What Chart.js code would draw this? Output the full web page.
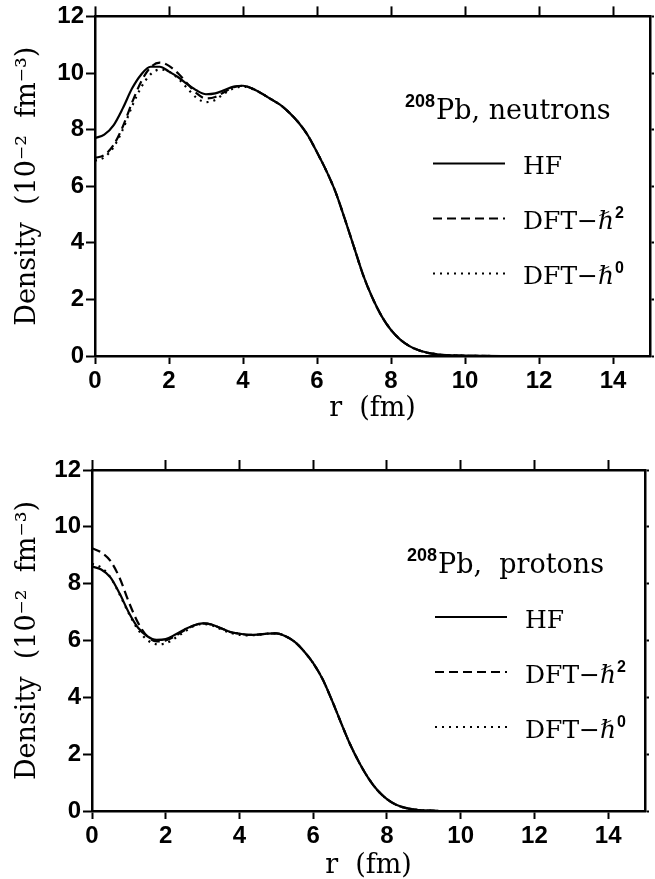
<!DOCTYPE html>
<html>
<head>
<meta charset="utf-8">
<title>208Pb densities</title>
<script src="https://cdn.jsdelivr.net/npm/chart.js@4.4.1/dist/chart.umd.min.js"></script>
<style>
  html, body { margin: 0; padding: 0; background: #fff; }
  .panel { position: absolute; left: 0; width: 655px; }
  #top-panel { top: 0; height: 430px; }
  #bottom-panel { top: 430px; height: 449px; }
</style>
</head>
<body>
<div class="panel" id="top-panel"><canvas id="neutrons" width="655" height="430"></canvas></div>
<div class="panel" id="bottom-panel"><canvas id="protons" width="655" height="449"></canvas></div>
<script>
// --- data (density in 10^-2 fm^-3) ---
const radius = [0, 0.25, 0.5, 0.75, 1, 1.25, 1.5, 1.75, 2, 2.25, 2.5, 2.75, 3, 3.25, 3.5, 3.75,
  4, 4.25, 4.5, 4.75, 5, 5.25, 5.5, 5.75, 6, 6.25, 6.5, 6.75, 7, 7.25, 7.5, 7.75,
  8, 8.25, 8.5, 8.75, 9, 9.25, 9.5, 9.75, 10, 11, 12, 13, 14, 15];

const neutronHF = [7.70, 7.82, 8.15, 8.75, 9.45, 9.95, 10.22, 10.22, 10.05, 9.85, 9.60, 9.38, 9.25, 9.28, 9.40, 9.52,
  9.55, 9.45, 9.28, 9.08, 8.88, 8.60, 8.25, 7.80, 7.20, 6.55, 5.80, 4.85, 3.85, 2.85, 2.05, 1.40,
  0.92, 0.58, 0.35, 0.20, 0.11, 0.06, 0.03, 0.02, 0.01, 0, 0, 0, 0, 0];
const neutronDFT2 = [7.00, 7.10, 7.45, 8.10, 8.95, 9.70, 10.20, 10.37, 10.25, 9.98, 9.62, 9.28, 9.10, 9.15, 9.33, 9.50,
  9.55, 9.45, 9.28, 9.08, 8.88, 8.60, 8.25, 7.80, 7.20, 6.55, 5.80, 4.85, 3.85, 2.85, 2.05, 1.40,
  0.92, 0.58, 0.35, 0.20, 0.11, 0.06, 0.03, 0.02, 0.01, 0, 0, 0, 0, 0];
const neutronDFT0 = [6.90, 7.02, 7.38, 8.00, 8.82, 9.50, 9.95, 10.12, 10.05, 9.80, 9.45, 9.12, 8.97, 9.05, 9.28, 9.46,
  9.52, 9.44, 9.28, 9.08, 8.88, 8.60, 8.25, 7.80, 7.20, 6.55, 5.80, 4.85, 3.85, 2.85, 2.05, 1.40,
  0.92, 0.58, 0.35, 0.20, 0.11, 0.06, 0.03, 0.02, 0.01, 0, 0, 0, 0, 0];

const protonHF = [8.60, 8.50, 8.22, 7.65, 6.98, 6.45, 6.15, 6.02, 6.05, 6.20, 6.38, 6.53, 6.60, 6.56, 6.43, 6.30,
  6.24, 6.20, 6.21, 6.24, 6.25, 6.15, 5.95, 5.62, 5.20, 4.65, 3.92, 3.12, 2.35, 1.70, 1.15, 0.72,
  0.42, 0.22, 0.11, 0.05, 0.02, 0.01, 0, 0, 0, 0, 0, 0, 0, 0];
const protonDFT2 = [9.25, 9.10, 8.80, 8.20, 7.35, 6.62, 6.15, 5.97, 6.00, 6.15, 6.35, 6.52, 6.60, 6.56, 6.43, 6.30,
  6.24, 6.20, 6.21, 6.24, 6.25, 6.15, 5.95, 5.62, 5.20, 4.65, 3.92, 3.12, 2.35, 1.70, 1.15, 0.72,
  0.42, 0.22, 0.11, 0.05, 0.02, 0.01, 0, 0, 0, 0, 0, 0, 0, 0];
const protonDFT0 = [8.70, 8.57, 8.22, 7.62, 6.95, 6.38, 6.02, 5.87, 5.90, 6.08, 6.30, 6.50, 6.58, 6.53, 6.40, 6.27,
  6.20, 6.18, 6.20, 6.24, 6.25, 6.15, 5.95, 5.62, 5.20, 4.65, 3.92, 3.12, 2.35, 1.70, 1.15, 0.72,
  0.42, 0.22, 0.11, 0.05, 0.02, 0.01, 0, 0, 0, 0, 0, 0, 0, 0];

const seriesLabels = ['HF', 'DFT\u2212\u210F\u00B2', 'DFT\u2212\u210F\u2070'];
const seriesDash = [[], [9, 5], [2, 5]];

const SERIF = '"DejaVu Serif", serif';
const SANS = '"Liberation Sans", Arial, sans-serif';
Chart.defaults.font.family = SANS;
Chart.defaults.color = '#000';

// draws a row of text pieces (for superscripts / italic hbar)
function drawRuns(ctx, runs, x, y) {
  runs.forEach(run => {
    ctx.font = run.font;
    ctx.fillText(run.text, x, y + (run.dy || 0));
    x += ctx.measureText(run.text).width + (run.gap || 0);
  });
}

function legendRuns(i) {
  const serif = '25px ' + SERIF;
  const sup = 'bold 16px ' + SANS;
  if (i === 0) return [{ text: 'HF', font: serif }];
  return [
    { text: 'DFT\u2212', font: serif },
    { text: '\u210F', font: 'italic 25px ' + SERIF, gap: 1 },
    { text: i === 1 ? '2' : '0', font: sup, dy: -11 }
  ];
}

// legend drawn inside the plot area, like the original figure
const insideLegend = {
  id: 'insideLegend',
  afterDraw(chart, args, opts) {
    const { ctx, chartArea } = chart;
    const x0 = chartArea.left + opts.dx;
    const y0 = chartArea.top;
    ctx.save();
    ctx.fillStyle = '#000';
    ctx.textBaseline = 'alphabetic';
    drawRuns(ctx, [
      { text: '208', font: 'bold 18px ' + SANS, dy: -12, gap: 1 },
      { text: opts.title, font: '27px ' + SERIF }
    ], x0, y0 + 103);
    chart.data.datasets.forEach((ds, i) => {
      const y = y0 + 147 + i * 55;
      ctx.beginPath();
      ctx.setLineDash(ds.borderDash);
      ctx.lineWidth = 2;
      ctx.strokeStyle = '#000';
      ctx.moveTo(x0 + 28, y);
      ctx.lineTo(x0 + 100, y);
      ctx.stroke();
      ctx.setLineDash([]);
      drawRuns(ctx, legendRuns(i), x0 + 118, y + 11);
    });
    ctx.restore();
  }
};

function makeChart(canvasId, series, title, box) {
  const datasets = series.map((values, i) => ({
    label: seriesLabels[i],
    data: radius.map((r, k) => ({ x: r, y: values[k] })),
    borderColor: '#000',
    borderWidth: 2.2,
    borderDash: seriesDash[i],
    pointRadius: 0,
    fill: false,
    cubicInterpolationMode: 'monotone'
  }));

  const frame = { display: true, color: '#000', width: 2.5 };
  const tickFont = { size: 24, weight: 'bold' };

  return new Chart(document.getElementById(canvasId), {
    type: 'line',
    data: { datasets },
    plugins: [insideLegend],
    options: {
      responsive: false,
      animation: false,
      layout: { padding: 0 },
      plugins: {
        legend: { display: false },
        tooltip: { enabled: false },
        insideLegend: { title: title, dx: box.legendDx }
      },
      scales: {
        x: {
          type: 'linear', position: 'bottom', min: 0, max: 15,
          border: frame,
          grid: { drawOnChartArea: false, tickLength: 8, tickWidth: 2, tickColor: '#000' },
          ticks: { stepSize: 2, includeBounds: false, padding: 3, font: tickFont, maxRotation: 0 },
          title: {
            display: true, text: 'r  (fm)',
            font: { family: SERIF, size: 27, lineHeight: 1 },
            padding: { top: 0, bottom: box.xTitlePad }
          },
          afterFit: s => { s.height = box.bottomH; }
        },
        x2: {
          type: 'linear', position: 'top', min: 0, max: 15,
          border: frame,
          grid: { drawOnChartArea: false, tickLength: 10, tickWidth: 2, tickColor: '#000' },
          ticks: { stepSize: 2, includeBounds: false, display: false },
          afterFit: s => { s.height = box.topH; }
        },
        y: {
          type: 'linear', position: 'left', min: 0, max: 12,
          border: frame,
          grid: { drawOnChartArea: false, tickLength: 9, tickWidth: 2, tickColor: '#000' },
          ticks: { stepSize: 2, padding: 2, font: tickFont },
          title: {
            display: true, text: 'Density  (10\u207B\u00B2  fm\u207B\u00B3)',
            font: { family: SERIF, size: 27, lineHeight: 1 },
            padding: { top: 14, bottom: 0 }
          },
          afterFit: s => { s.width = box.leftW; }
        },
        y2: {
          type: 'linear', position: 'right', min: 0, max: 12,
          border: frame,
          grid: { drawOnChartArea: false, tickLength: 4, tickWidth: 2, tickColor: '#000' },
          ticks: { stepSize: 2, display: false },
          afterFit: s => { s.width = box.rightW; }
        }
      }
    }
  });
}

makeChart('neutrons', [neutronHF, neutronDFT2, neutronDFT0], 'Pb, neutrons',
  { leftW: 95, rightW: 5, topH: 15, bottomH: 74, xTitlePad: 8, legendDx: 310 });
makeChart('protons', [protonHF, protonDFT2, protonDFT0], 'Pb,  protons',
  { leftW: 92, rightW: 10, topH: 40, bottomH: 68, xTitlePad: 0, legendDx: 315 });
</script>
</body>
</html>
